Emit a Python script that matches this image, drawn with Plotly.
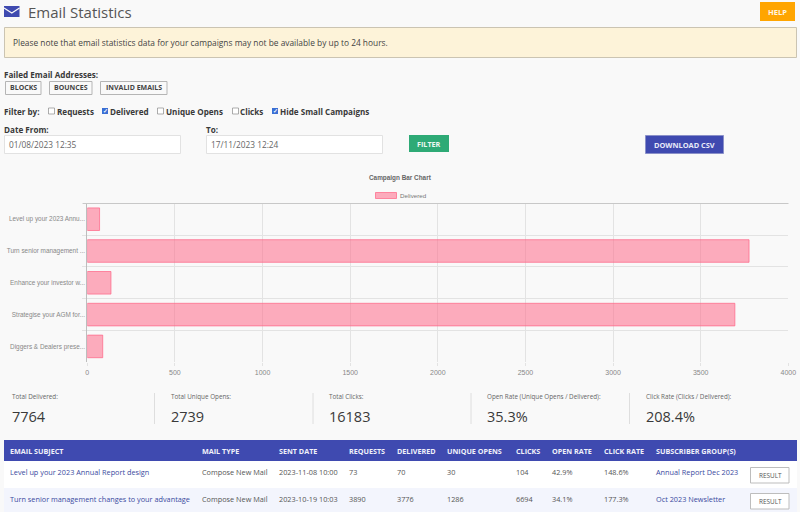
import plotly.graph_objects as go

W, H = 800, 512
PAGE_FONT = "Open Sans"
CHART_FONT = "Liberation Sans"
BLUE = "#3f4ab0"

# chart data
campaigns = ["Level up your 2023 Annu...", "Turn senior management ...", "Enhance your investor w...",
             "Strategise your AGM for...", "Diggers & Dealers prese..."]
delivered = [70, 3776, 135, 3695, 88]
x_ticks = [0, 500, 1000, 1500, 2000, 2500, 3000, 3500, 4000]

# summary row
stat_labels = ["Total Delivered:", "Total Unique Opens:", "Total Clicks:",
               "Open Rate (Unique Opens / Delivered):", "Click Rate (Clicks / Delivered):"]
stat_values = ["7764", "2739", "16183", "35.3%", "208.4%"]

# table
table_header = ["EMAIL SUBJECT", "MAIL TYPE", "SENT DATE", "REQUESTS", "DELIVERED",
                "UNIQUE OPENS", "CLICKS", "OPEN RATE", "CLICK RATE", "SUBSCRIBER GROUP(S)"]
row_1 = ["Level up your 2023 Annual Report design", "Compose New Mail", "2023-11-08 10:00", "73", "70",
         "30", "104", "42.9%", "148.6%", "Annual Report Dec 2023"]
row_2 = ["Turn senior management changes to your advantage", "Compose New Mail", "2023-10-19 10:03", "3890", "3776",
         "1286", "6694", "34.1%", "177.3%", "Oct 2023 Newsletter"]

failed_buttons = ["BLOCKS", "BOUNCES", "INVALID EMAILS"]
filter_names = ["Requests", "Delivered", "Unique Opens", "Clicks", "Hide Small Campaigns"]
filter_checked = [False, True, False, False, True]


def px(x):
    return x / W


def py(y):
    return 1 - y / H


shapes = []
notes = []


def box(x0, y0, x1, y1, fill, line=None, width=1):
    shapes.append(dict(type="rect", xref="paper", yref="paper", x0=px(x0), x1=px(x1), y0=py(y0), y1=py(y1),
                       fillcolor=fill, line=dict(color=line or fill, width=width if line else 0), layer="above"))


def hline(x0, x1, y, color, width=1):
    shapes.append(dict(type="line", xref="paper", yref="paper", x0=px(x0), x1=px(x1), y0=py(y), y1=py(y),
                       line=dict(color=color, width=width), layer="above"))


def vline(x, y0, y1, color, width=1):
    shapes.append(dict(type="line", xref="paper", yref="paper", x0=px(x), x1=px(x), y0=py(y0), y1=py(y1),
                       line=dict(color=color, width=width), layer="above"))


def label(x, y, text, size=8, color="#444444", family=PAGE_FONT, anchor="left", weight=400):
    notes.append(dict(xref="paper", yref="paper", x=px(x), y=py(y), text=text, showarrow=False,
                      xanchor=anchor, yanchor="middle", borderpad=0, borderwidth=0,
                      font=dict(family=family, size=size, color=color, weight=weight)))


# header
box(4, 6, 19.5, 17, BLUE)
shapes.append(dict(type="path", xref="paper", yref="paper",
                   path=f"M {px(4)} {py(8)} L {px(11.8)} {py(13)} L {px(19.5)} {py(8)}",
                   line=dict(color="#f9f9f9", width=1.2), layer="above"))
label(28, 11.5, "Email Statistics", 15, "#555555")
box(760, 2, 795, 21, "#ffa500")
label(777.5, 11.5, "HELP", 7.5, "#fff6e0", anchor="center", weight=700)
box(4.5, 27.5, 796.5, 57.5, "#fdf3d9", "#cbc4b2")
label(13, 42, "Please note that email statistics data for your campaigns may not be available by up to 24 hours.",
      8.37, "#444444")

# filters
label(4, 74, "Failed Email Addresses:", 8.1, "#3a3a3a", weight=700)
for name, (x0, x1) in zip(failed_buttons, [(5.5, 41), (49.5, 92), (100.5, 167)]):
    box(x0, 81.5, x1, 94.5, "#f9f9f9", "#b5b5b5")
    label((x0 + x1) / 2, 87.5, name, 7, "#444444", anchor="center", weight=700)

label(4, 111, "Filter by:", 8.1, "#3a3a3a", weight=700)
for name, checked, bx in zip(filter_names, filter_checked, [48.5, 102, 157.5, 232.5, 272]):
    if checked:
        box(bx, 108, bx + 6, 114, "#3b6fd4")
        label(bx + 3, 111, "✓", 5.5, "#ffffff", anchor="center", weight=700)
    else:
        box(bx, 108, bx + 6, 114, "#ffffff", "#8a8a8a", 0.7)
    label(bx + 8, 111, name, 8.1, "#3a3a3a", weight=700)

label(4, 129, "Date From:", 8.1, "#3a3a3a", weight=700)
label(206, 129, "To:", 8.1, "#3a3a3a", weight=700)
box(4.5, 135.5, 180.5, 153.5, "#ffffff", "#e2e2e2")
box(206.5, 135.5, 382.5, 153.5, "#ffffff", "#e2e2e2")
label(9, 144.5, "01/08/2023 12:35", 8.3, "#666666")
label(211, 144.5, "17/11/2023 12:24", 8.3, "#666666")
box(409, 135, 449, 152, "#2eaa76")
label(429, 143.5, "FILTER", 7.2, "#eef8f3", anchor="center", weight=700)
box(645.5, 135.5, 723.5, 153.5, BLUE, "#8a90c8")
label(684.5, 144.5, "DOWNLOAD CSV", 7.4, "#e8eaf8", anchor="center", weight=700)

# chart title and legend
label(400.5, 178, "Campaign Bar Chart", 6.4, "#666666", CHART_FONT, "center", weight=700)
box(375.5, 192.5, 396.5, 198.5, "rgba(255,99,132,0.52)", "rgba(255,99,132,0.7)")
label(400, 195.5, "Delivered", 6.2, "#777777", CHART_FONT)
hline(83, 788.5, 203.5, "#c8c8c8")

# summary
for name, value, sx in zip(stat_labels, stat_values, [12, 170.5, 329, 487, 646]):
    label(sx, 396.5, name, 6.3, "#666666")
    label(sx, 416, value, 14.5, "#3a3a3a")
for dx in [154.5, 313, 471, 629.5]:
    vline(dx, 393, 424, "#dedede")

# table
box(4, 440, 797, 461, BLUE)
box(4, 461, 797, 488, "#ffffff")
box(4, 488, 797, 512, "#f3f5fd")
col_x = [9.5, 202, 279, 349, 396.5, 447.5, 515.5, 551.5, 603.5, 656]
for text, cx in zip(table_header, col_x):
    label(cx, 450.5, text, 7.2, "#f0f1fa", weight=700)
for row, ry in [(row_1, 472), (row_2, 498.5)]:
    for text, cx in zip(row, col_x):
        link = text in (row[0], row[9])
        label(cx, ry, text, 7.3, "#3a4aa0" if link else "#555555")
for by in [467.5, 493.5]:
    box(750.5, by, 789, by + 15.5, "#ffffff", "#bdbdbd")
    label(770, by + 8, "RESULT", 6.4, "#555555", anchor="center")

fig = go.Figure(go.Bar(
    x=delivered, y=campaigns, orientation="h", name="Delivered", width=0.71,
    marker=dict(color="rgba(255,99,132,0.52)", line=dict(color="rgba(255,99,132,0.7)", width=1)),
))
fig.update_layout(
    width=W, height=H, margin=dict(l=0, r=0, t=0, b=0, autoexpand=False), showlegend=False,
    paper_bgcolor="#f9f9f9", plot_bgcolor="#f9f9f9",
    font=dict(family=CHART_FONT, size=7, color="#888888"),
    shapes=shapes, annotations=notes,
    xaxis=dict(domain=[px(87.3), px(788.3)], range=[0, 4000], tickvals=x_ticks, showgrid=True,
               gridcolor="#e3e3e3", gridwidth=1, zeroline=False, showline=False,
               ticks="outside", ticklen=3, tickcolor="#e3e3e3", tickfont=dict(size=7, color="#888888")),
    yaxis=dict(domain=[py(362.3), py(203.3)], autorange="reversed", tickson="boundaries", showgrid=True,
               gridcolor="#e3e3e3", gridwidth=1, zeroline=False, showline=True, linecolor="#bdbdbd",
               ticks="outside", ticklen=4, tickcolor="#e3e3e3", tickfont=dict(size=6.4, color="#888888")),
)

fig.write_html("out.html", config=dict(displayModeBar=False), post_script="document.body.style.margin='0';")
